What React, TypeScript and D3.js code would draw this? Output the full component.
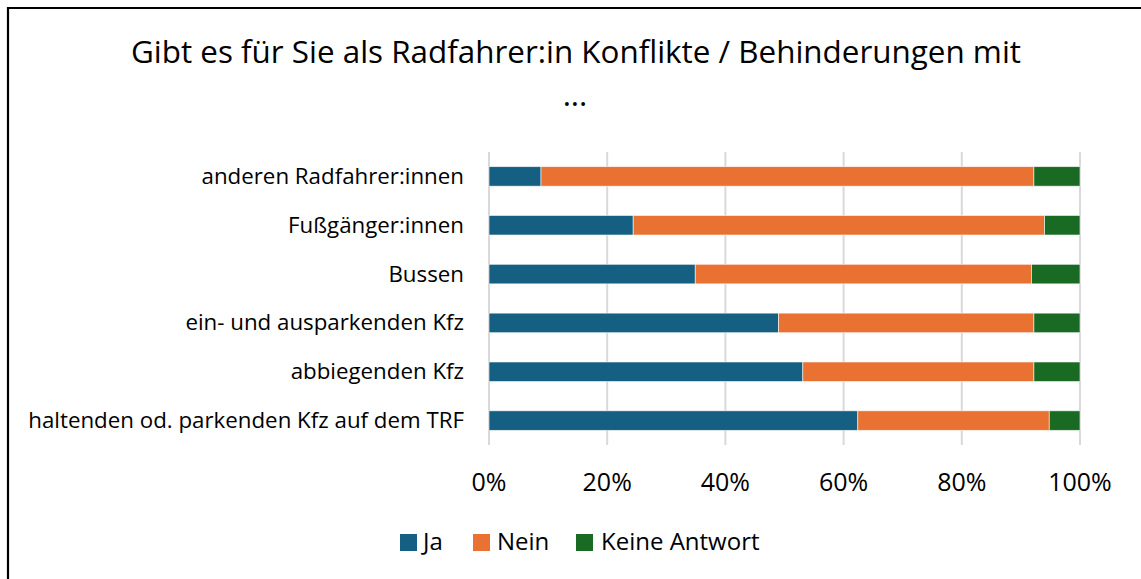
import React from "react";
import * as d3 from "d3";

const categories = [
  "anderen Radfahrer:innen",
  "Fußgänger:innen",
  "Bussen",
  "ein- und ausparkenden Kfz",
  "abbiegenden Kfz",
  "haltenden od. parkenden Kfz auf dem TRF",
];
const ja = [8.8, 24.4, 34.9, 49.0, 53.1, 62.4];
const nein = [83.4, 69.6, 56.9, 43.2, 39.1, 32.4];
const keine = [7.8, 6.0, 8.2, 7.8, 7.8, 5.2];
const seriesNames = ["Ja", "Nein", "Keine Antwort"];
const seriesColors = ["#156082", "#E97132", "#196B24"];
const tickValues = [0, 20, 40, 60, 80, 100];

const FONT = "'Open Sans', 'Liberation Sans', Arial, sans-serif";

export default function App() {
  const W = 1141;
  const H = 579;
  const x = d3.scaleLinear().domain([0, 100]).range([489, 1080]);
  const y = d3
    .scaleBand<string>()
    .domain(categories)
    .range([152, 445])
    .paddingInner(0.6)
    .paddingOuter(0.3);

  const rows = categories.map((c, i) => ({ cat: c, Ja: ja[i], Nein: nein[i], "Keine Antwort": keine[i] }));
  const stacked = d3.stack<any>().keys(seriesNames)(rows);

  const legendItems = [
    { name: "Ja", sx: 400, tx: 423 },
    { name: "Nein", sx: 473, tx: 497 },
    { name: "Keine Antwort", sx: 576, tx: 601 },
  ];

  return (
    <svg
      width={W}
      height={H}
      style={{ position: "absolute", left: 0, top: 0, background: "#fff" }}
      fontFamily={FONT}
    >
      <rect x={0} y={0} width={W} height={H} fill="#fff" />
      <path d={`M8,${H} V8 H${W}`} fill="none" stroke="#000" strokeWidth={2.2} />
      <text x={576} y={63} textAnchor="middle" fontSize={31.4} fill="#000">
        Gibt es für Sie als Radfahrer:in Konflikte / Behinderungen mit
      </text>
      <text x={575} y={106} textAnchor="middle" fontSize={31.4} fill="#000">
        ...
      </text>
      {tickValues.map((t) => (
        <line key={t} x1={x(t)} x2={x(t)} y1={152} y2={445} stroke="#d9d9d9" strokeWidth={2} />
      ))}
      {stacked.map((s, si) => (
        <g key={s.key} fill={seriesColors[si]}>
          {s.map((d, i) => (
            <rect
              key={i}
              x={x(d[0])}
              y={y(categories[i])}
              width={x(d[1]) - x(d[0])}
              height={y.bandwidth()}
              stroke="#ffffff"
              strokeOpacity={0.7}
              strokeWidth={0.8}
            />
          ))}
        </g>
      ))}
      {categories.map((c) => (
        <text
          key={c}
          x={464}
          y={(y(c) as number) + y.bandwidth() / 2 + 7.5}
          textAnchor="end"
          fontSize={22.3}
          fill="#000"
        >
          {c}
        </text>
      ))}
      {tickValues.map((t) => (
        <text key={t} x={x(t)} y={491} textAnchor="middle" fontSize={25} fill="#000">
          {t}%
        </text>
      ))}
      {legendItems.map((l, i) => (
        <g key={l.name}>
          <rect x={l.sx} y={534} width={17} height={17} fill={seriesColors[i]} />
          <text x={l.tx} y={550} fontSize={24} fill="#000">
            {l.name}
          </text>
        </g>
      ))}
    </svg>
  );
}
